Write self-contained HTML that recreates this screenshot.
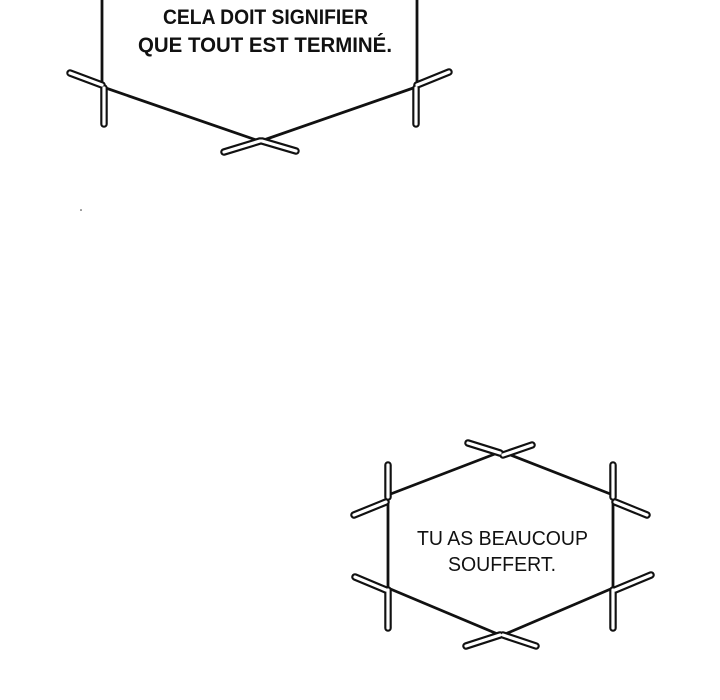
<!DOCTYPE html>
<html><head><meta charset="utf-8"><style>
html,body{margin:0;padding:0;background:#fff;}
svg{display:block;}
text{font-family:"Liberation Sans",sans-serif;fill:#111;}
.b{font-weight:bold}
.n{font-weight:normal}
.s{stroke:#111;stroke-width:7.5;stroke-linecap:round;fill:none}
.w{stroke:#fff;stroke-width:3.2;stroke-linecap:round;fill:none}
.l{stroke:#111;stroke-width:2.8;fill:none}
</style></head><body>
<svg width="720" height="700" viewBox="0 0 720 700" xmlns="http://www.w3.org/2000/svg">
<rect width="720" height="700" fill="#fff"/>
<line class="l" x1="102" y1="0" x2="102" y2="88"/>
<line class="l" x1="417" y1="0" x2="417" y2="88"/>
<line class="l" x1="100" y1="86" x2="262" y2="142"/>
<line class="l" x1="419" y1="86" x2="258" y2="142"/>
<g>
<line class="s" x1="70" y1="73" x2="102" y2="85"/>
<line class="s" x1="104" y1="88" x2="104" y2="124"/>
<line class="s" x1="449" y1="72" x2="417" y2="85"/>
<line class="s" x1="416" y1="88" x2="416" y2="124"/>
<line class="s" x1="224" y1="152" x2="260" y2="141"/>
<line class="s" x1="296" y1="151" x2="262" y2="141"/>
<line class="w" x1="70" y1="73" x2="102" y2="85"/>
<line class="w" x1="104" y1="88" x2="104" y2="124"/>
<line class="w" x1="449" y1="72" x2="417" y2="85"/>
<line class="w" x1="416" y1="88" x2="416" y2="124"/>
<line class="w" x1="224" y1="152" x2="260" y2="141"/>
<line class="w" x1="296" y1="151" x2="262" y2="141"/>
</g>
<text class="b" x="163" y="24" font-size="21" textLength="205" lengthAdjust="spacingAndGlyphs">CELA DOIT SIGNIFIER</text>
<text class="b" x="138" y="52" font-size="21" textLength="254" lengthAdjust="spacingAndGlyphs">QUE TOUT EST TERMINÉ.</text>
<circle cx="81" cy="210" r="0.8" fill="#333"/>
<line class="l" x1="388" y1="495" x2="500" y2="452"/>
<line class="l" x1="613" y1="495" x2="503" y2="452"/>
<line class="l" x1="388" y1="588" x2="500" y2="635"/>
<line class="l" x1="613" y1="588" x2="503" y2="635"/>
<line class="l" x1="388" y1="495" x2="388" y2="588"/>
<line class="l" x1="613" y1="495" x2="613" y2="588"/>
<g>
<line class="s" x1="354" y1="515" x2="386" y2="502"/>
<line class="s" x1="388" y1="465" x2="388" y2="497"/>
<line class="s" x1="647" y1="515" x2="615" y2="502"/>
<line class="s" x1="613" y1="465" x2="613" y2="497"/>
<line class="s" x1="355" y1="577" x2="386" y2="590"/>
<line class="s" x1="388" y1="590" x2="388" y2="628"/>
<line class="s" x1="651" y1="575" x2="615" y2="590"/>
<line class="s" x1="613" y1="590" x2="613" y2="628"/>
<line class="s" x1="468" y1="443" x2="500" y2="453"/>
<line class="s" x1="532" y1="445" x2="503" y2="455"/>
<line class="s" x1="466" y1="646" x2="500" y2="635"/>
<line class="s" x1="536" y1="646" x2="503" y2="635"/>
<line class="w" x1="354" y1="515" x2="386" y2="502"/>
<line class="w" x1="388" y1="465" x2="388" y2="497"/>
<line class="w" x1="647" y1="515" x2="615" y2="502"/>
<line class="w" x1="613" y1="465" x2="613" y2="497"/>
<line class="w" x1="355" y1="577" x2="386" y2="590"/>
<line class="w" x1="388" y1="590" x2="388" y2="628"/>
<line class="w" x1="651" y1="575" x2="615" y2="590"/>
<line class="w" x1="613" y1="590" x2="613" y2="628"/>
<line class="w" x1="468" y1="443" x2="500" y2="453"/>
<line class="w" x1="532" y1="445" x2="503" y2="455"/>
<line class="w" x1="466" y1="646" x2="500" y2="635"/>
<line class="w" x1="536" y1="646" x2="503" y2="635"/>
</g>
<text class="n" x="417" y="545" font-size="20" textLength="171" lengthAdjust="spacingAndGlyphs">TU AS BEAUCOUP</text>
<text class="n" x="448" y="571" font-size="20" textLength="108" lengthAdjust="spacingAndGlyphs">SOUFFERT.</text>
</svg>
</body></html>
